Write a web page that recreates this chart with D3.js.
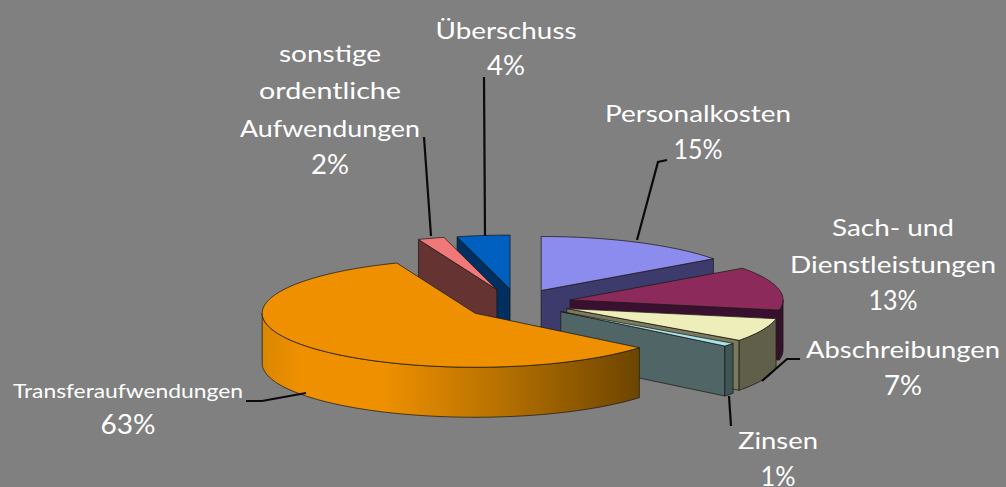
<!DOCTYPE html>
<html><head><meta charset="utf-8">
<script src="https://cdn.jsdelivr.net/npm/d3@7"></script>
<style>html,body{margin:0;padding:0;background:#808080;overflow:hidden}svg{display:block}
text{font-family:"Comic Sans MS","Lato","Noto Sans",sans-serif;fill:#fff}</style>
</head><body><svg id="c" width="1006" height="487"></svg>
<script>
// DATA
const categories = ["Personalkosten","Sach- und Dienstleistungen","Abschreibungen","Zinsen","Transferaufwendungen","sonstige ordentliche Aufwendungen","Überschuss"];
// Printed percentages (as labelled in the source; they add up to 105)
const printedPercent = [15,13,7,1,63,2,4];
// Slice shares as actually drawn in the picture
const drawnShare = [15,13,7,1,58,2,4];

// STYLE / LAYOUT
const topColors  = ["#8c8cee","#8c2a5c","#eeeebb","#a8e4ee","#ee9000","#f07878","#0060c0"];
const sideColors = ["#3d3b6b","#3a1030","#7a7a5c","#4f6566","#6b4500","#663333","#002f60"];
const rimColors  = ["#3d3b6b","#3a1030","#60604a","#3f5556","url(#rimGrad)","#663333","#002f60"];
const cx=516, cy=303, rx=213, ry=54, depth=50, explode=0.26;
const nudge=[[0,0],[0,0],[0,0],[1,0],[4,2],[-2,0],[1,0]];
const paintOrder=[6,5,0,1,2,3,4];
const labelLayout=[
 {x:698,y:122,lh:37,lines:["Personalkosten"],w:[186],fs:24,pw:49},
 {x:893,y:236,lh:37,lines:["Sach- und","Dienstleistungen"],w:[122,206],fs:24,pw:49},
 {x:903,y:358,lh:37,lines:["Abschreibungen"],w:[194],fs:24,pw:38},
 {x:778,y:449,lh:37,lines:["Zinsen"],w:[80],fs:24,pw:35},
 {x:128,y:398,lh:36,lines:["Transferaufwendungen"],w:[230],fs:19,pw:55},
 {x:330,y:62,lh:37.3,lines:["sonstige","ordentliche","Aufwendungen"],w:[102,142,180],fs:24,pw:38},
 {x:506,y:39,lh:36,lines:["Überschuss"],w:[141],fs:24,pw:38}];
const percentFs=26;
const leaders=[
 [[637,240],[658,162],[667,160]],
 [[762,381],[787,359],[800,359]],
 [[729,396],[731,426]],
 [[246,401],[262,401],[306,393]],
 [[424,137],[431,236]],
 [[484,77],[485,236]]];

const svg=d3.select("#c");
svg.append("rect").attr("width",1006).attr("height",487).attr("fill","#808080");

const grad=svg.append("defs").append("linearGradient").attr("id","rimGrad")
 .attr("gradientUnits","userSpaceOnUse").attr("x1",261).attr("x2",642).attr("y1",0).attr("y2",0);
[[0,"#d98600"],[0.1,"#ee9000"],[0.32,"#ee9000"],[0.62,"#b87200"],[0.85,"#8a5600"],[1,"#6a4400"]]
 .forEach(s=>grad.append("stop").attr("offset",s[0]).attr("stop-color",s[1]));

const sx=d3.scaleLinear().domain([-1,1]).range([cx-rx,cx+rx]);
const sy=d3.scaleLinear().domain([-1,1]).range([cy-ry,cy+ry]);
const pie=d3.pie().sort(null).value(d=>d).startAngle(0).endAngle(2*Math.PI);
const arcs=pie(drawnShare);
const line=d3.line().x(d=>d[0]).y(d=>d[1]);
const strokeCol="rgba(30,25,20,.75)";

function pt(a,r,mid,dz,n){
  const ux=r*Math.sin(a)+explode*Math.sin(mid), uy=-r*Math.cos(a)-explode*Math.cos(mid);
  return [sx(ux)+n[0],sy(uy)+dz+n[1]];
}
function sample(a0,a1){const k=Math.max(2,Math.ceil(Math.abs(a1-a0)/0.02));return d3.range(k+1).map(i=>a0+(a1-a0)*i/k);}

const g=svg.append("g");
paintOrder.forEach(i=>{
  const d=arcs[i],a0=d.startAngle,a1=d.endAngle,mid=(a0+a1)/2,n=nudge[i];
  const slice=g.append("g");
  const face=(pts,fill)=>slice.append("path").attr("d",line(pts)+"Z").attr("fill",fill)
     .attr("stroke",strokeCol).attr("stroke-width",1).attr("stroke-linejoin","round");
  if(Math.sin(a0)<-1e-6) face([pt(a0,1,mid,0,n),pt(a0,0,mid,0,n),pt(a0,0,mid,depth,n),pt(a0,1,mid,depth,n)],sideColors[i]);
  if(Math.sin(a1)>1e-6) face([pt(a1,1,mid,0,n),pt(a1,0,mid,0,n),pt(a1,0,mid,depth,n),pt(a1,1,mid,depth,n)],sideColors[i]);
  const ra0=Math.max(a0,Math.PI/2),ra1=Math.min(a1,3*Math.PI/2);
  if(ra1>ra0){
    const s=sample(ra0,ra1);
    face(s.map(a=>pt(a,1,mid,0,n)).concat(s.slice().reverse().map(a=>pt(a,1,mid,depth,n))),rimColors[i]);
  }
  face([pt(0,0,mid,0,n)].concat(sample(a0,a1).map(a=>pt(a,1,mid,0,n))),topColors[i]);
});

leaders.forEach(l=>svg.append("path").attr("d",line(l)).attr("fill","none").attr("stroke","#0a0a0a").attr("stroke-width",2.2));

labelLayout.forEach((L,i)=>{
  const t=svg.append("g");
  L.lines.forEach((s,j)=>t.append("text").attr("x",L.x).attr("y",L.y+j*L.lh)
     .attr("text-anchor","middle").attr("font-size",L.fs).attr("textLength",L.w[j])
     .attr("lengthAdjust","spacingAndGlyphs").text(s));
  t.append("text").attr("x",L.x).attr("y",L.y+L.lines.length*L.lh)
     .attr("text-anchor","middle").attr("font-size",percentFs).attr("textLength",L.pw)
     .attr("lengthAdjust","spacingAndGlyphs").text(printedPercent[i]+"%");
});
</script></body></html>
